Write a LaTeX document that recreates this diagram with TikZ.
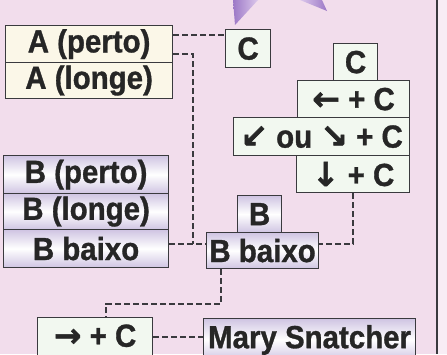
\documentclass[tikz,border=0pt]{standalone}
\usepackage{fontspec}
\setmainfont{Liberation Sans}[FakeStretch=0.92, BoldFeatures={FakeBold=1}]
\newfontfamily\arrowfont{DejaVu Sans}[BoldFeatures={FakeBold=1.5}]
\usetikzlibrary{calc}
\definecolor{bgpink}{HTML}{F2DDEC}
\definecolor{bgright}{HTML}{F8EDF5}
\definecolor{edge}{HTML}{3A3A3E}
\definecolor{cream}{HTML}{FBF7E8}
\definecolor{mint}{HTML}{F2F8F0}
\definecolor{lav}{HTML}{CFC4E2}
\definecolor{purp}{HTML}{9C78C6}
\definecolor{purpl}{HTML}{DCC8EC}
\newcommand{\ar}[1]{{\arrowfont\bfseries\fontsize{33}{34}\selectfont #1}}
\tikzset{
  box/.style={draw=edge, line width=1.2pt, anchor=north west, inner sep=0pt,
    font=\fontsize{32}{34}\selectfont\bfseries, text=black!85},
  creambox/.style={box, fill=cream},
  mintbox/.style={box, fill=mint},
  lavbox/.style={box, top color=lav, bottom color=lav, middle color=white},
  conn/.style={draw=edge, line width=1.5pt, dash pattern=on 6pt off 3pt}
}
\begin{document}
\begin{tikzpicture}[x=1pt,y=-1pt]
\useasboundingbox (0,0) rectangle (447,354);
\fill[bgpink] (0,0) rectangle (437,354);
\fill[bgright] (437,0) rectangle (447,354);
\shade[left color=purp, right color=purpl] (233,0) -- (258,0) -- (235,25) -- cycle;
\shade[left color=purpl, right color=purp] (300,0) -- (322,0) -- (327,11) -- cycle;
\draw[edge, line width=1.5pt] (437,0) -- (437,354);

\node[creambox, minimum width=167pt, minimum height=37pt] (Aperto) at (5,25) {A (perto)};
\node[creambox, minimum width=167pt, minimum height=36pt] (Alonge) at (5,62) {A (longe)};
\node[mintbox, minimum width=45pt, minimum height=38pt] (C1) at (225,29) {C};
\node[mintbox, minimum width=44pt, minimum height=37pt] (C2) at (333,43) {C};
\node[mintbox, minimum width=112pt, minimum height=37pt] (LC) at (297,80) {\ar{←} + C};
\node[mintbox, minimum width=176pt, minimum height=38pt] (DD) at (233,117) {\ar{↙} ou \ar{↘} + C};
\node[mintbox, minimum width=113pt, minimum height=37pt] (DC) at (296,155) {\ar{↓} + C};

\node[lavbox, minimum width=165pt, minimum height=38pt] (Bperto) at (3,155) {B (perto)};
\node[lavbox, minimum width=165pt, minimum height=36pt] (Blonge) at (3,193) {B (longe)};
\node[lavbox, minimum width=165pt, minimum height=38pt] (Bbaixo1) at (3,229) {B baixo};
\node[lavbox, minimum width=44pt, minimum height=37pt] (B2) at (237,195) {B};
\node[lavbox, minimum width=112pt, minimum height=36pt] (Bbaixo2) at (206,232) {B baixo};

\node[mintbox, minimum width=115pt, minimum height=42pt, text depth=6pt] (RC) at (37,317) {\ar{→} + C};
\node[lavbox, minimum width=212pt, minimum height=42pt, text depth=6pt] (Mary) at (203,318) {Mary Snatcher};

\coordinate (jA) at (193,244);
\coordinate (k) at (106,304);
\draw[conn] (Aperto.east |- 0,35) -- (C1.west |- 0,35);
\draw[conn] (Aperto.east |- 0,54) -| (jA);
\draw[conn] (Bbaixo1.east |- jA) -- (Bbaixo2.west |- jA);
\draw[conn] (DC.south -| 353,0) |- (Bbaixo2.east |- jA);
\draw[conn] (Bbaixo2.south -| 221,0) |- (k) -- (RC.north -| k);
\draw[conn] (RC.east |- 0,337) -- (Mary.west |- 0,337);
\end{tikzpicture}
\end{document}
